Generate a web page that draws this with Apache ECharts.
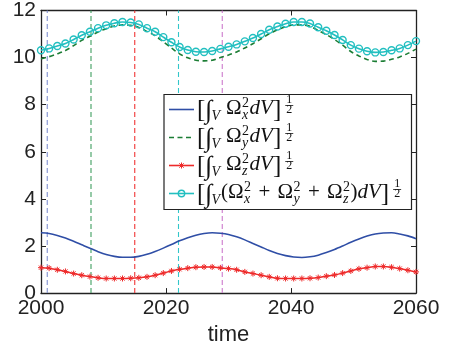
<!DOCTYPE html>
<html><head><meta charset="utf-8">
<script src="https://cdn.jsdelivr.net/npm/echarts@6/dist/echarts.min.js"></script>
<style>html,body{margin:0;padding:0;background:#fff}#c{width:451px;height:351px}</style>
</head><body><div id="c"></div>
<script>
// ---- data ----
const years = [2000,2001.30,2002.61,2003.91,2005.22,2006.52,2007.83,2009.13,2010.43,2011.74,2013.04,2014.35,2015.65,2016.96,2018.26,2019.57,2020.87,2022.17,2023.48,2024.78,2026.09,2027.39,2028.70,2030.00,2031.30,2032.61,2033.91,2035.22,2036.52,2037.83,2039.13,2040.43,2041.74,2043.04,2044.35,2045.65,2046.96,2048.26,2049.57,2050.87,2052.17,2053.48,2054.78,2056.09,2057.39,2058.70,2060.00];
const omegaX = [2.56,2.53,2.45,2.34,2.20,2.05,1.90,1.76,1.64,1.56,1.52,1.52,1.56,1.65,1.77,1.91,2.06,2.22,2.35,2.46,2.53,2.56,2.54,2.49,2.39,2.26,2.11,1.96,1.81,1.68,1.59,1.53,1.51,1.54,1.61,1.72,1.85,2.00,2.16,2.30,2.42,2.51,2.55,2.56,2.51,2.43,2.31];
const omegaY = [9.95,10.04,10.16,10.30,10.51,10.73,10.91,11.09,11.23,11.34,11.39,11.37,11.28,11.11,10.93,10.67,10.41,10.16,9.99,9.89,9.86,9.89,10.00,10.11,10.24,10.41,10.59,10.80,11.01,11.18,11.31,11.39,11.39,11.33,11.15,10.98,10.77,10.53,10.26,10.07,9.92,9.84,9.85,9.93,10.03,10.18,10.36];
const omegaZ = [1.08,1.06,0.99,0.92,0.83,0.76,0.70,0.65,0.62,0.62,0.62,0.63,0.65,0.69,0.76,0.85,0.94,1.01,1.06,1.10,1.11,1.11,1.07,1.04,0.99,0.90,0.83,0.76,0.69,0.63,0.62,0.62,0.62,0.63,0.66,0.72,0.77,0.85,0.94,1.03,1.08,1.13,1.13,1.10,1.04,0.97,0.90];
const omegaTotal = [10.31,10.39,10.49,10.60,10.77,10.95,11.10,11.25,11.37,11.46,11.51,11.49,11.41,11.25,11.10,10.87,10.65,10.45,10.32,10.25,10.24,10.28,10.37,10.46,10.56,10.69,10.83,11.00,11.18,11.32,11.44,11.51,11.51,11.45,11.29,11.14,10.96,10.75,10.53,10.38,10.27,10.22,10.24,10.31,10.39,10.53,10.70];
const markerYears = [2001, 2008, 2015, 2022, 2029];
const markerColors = ['#8090d0', '#3f9f60', '#f03434', '#33c6ca', '#cc78cc'];
const xTicks = [2000, 2020, 2040, 2060];
const yTicks = [0, 2, 4, 6, 8, 10, 12];

const C = { x:'#2f4ea6', y:'#1b7d34', z:'#ee2a2a', t:'#22bfc0' };
const pairs = v => years.map((yr, i) => [yr, v[i]]);

// ---- legend drawn as graphic (LaTeX-like) ----
const cv = document.createElement('canvas').getContext('2d');
const SERIF = '"Liberation Serif","DejaVu Serif",serif';
const fnt = (s, it) => (it ? 'italic ' : '') + s + 'px ' + SERIF;
const meas = (t, f) => { cv.font = f; return cv.measureText(t).width; };
const G = [];
const LX = 164, LY = 94.5, LW = 247.5, LH = 115;
G.push({type:'rect', shape:{x:LX, y:LY, width:LW, height:LH}, style:{fill:'#fff', stroke:'#222', lineWidth:1.2}, z:100});
function T(t, x, yb, s, it) {
  const f = fnt(s, it);
  G.push({type:'text', x:x, y:yb - 0.34 * s, z:101,
    style:{text:t, font:f, fill:'#111', textAlign:'left', textVerticalAlign:'middle', align:'left', verticalAlign:'middle'}});
  return meas(t, f);
}
function layout(yb, parts) {
  let x = 197;
  for (const p of parts) {
    if (p.k === 'sp') { x += p.w; continue; }
    if (p.k === 't') { x += T(p.t, x, yb + (p.dy || 0), p.s, p.it) + (p.after || 0); continue; }
    if (p.k === 'ss') {
      const a = T(p.sup, x + 0.5, yb - 8, 14, false);
      const b = T(p.sub, x + 0.5, yb + 4.5, 14, true);
      x += Math.max(a, b) + 1; continue;
    }
    if (p.k === 'frac') {
      x += 4;
      const w = meas('1', fnt(12));
      T('1', x + 1, yb - 12, 12, false);
      T('2', x + 1, yb - 2, 12, false);
      G.push({type:'line', shape:{x1:x, y1:yb - 10.5, x2:x + w + 2, y2:yb - 10.5}, style:{stroke:'#111', lineWidth:0.8}, z:101});
      x += w + 2;
    }
  }
}
const LB = {k:'t', t:'[', s:25, dy:3}, RB = {k:'t', t:']', s:25, dy:3};
const INT = {k:'t', t:'\u222B', s:26, dy:4, it:true, after:-1};
const SUBV = {k:'t', t:'V', s:14, dy:5, it:true};
const OM = {k:'t', t:'\u03A9', s:21};
const D = {k:'t', t:'d', s:21, it:true}, V = {k:'t', t:'V', s:21, it:true};
const FR = {k:'frac'};
const sp = w => ({k:'sp', w:w});
const ss = s => ({k:'ss', sup:'2', sub:s});
const PLUS = [sp(7), {k:'t', t:'+', s:21}, sp(7)];
const rowBase = [116, 144, 172, 200];
layout(rowBase[0], [LB, INT, SUBV, sp(6), OM, ss('x'), D, V, RB, FR]);
layout(rowBase[1], [LB, INT, SUBV, sp(6), OM, ss('y'), D, V, RB, FR]);
layout(rowBase[2], [LB, INT, SUBV, sp(6), OM, ss('z'), D, V, RB, FR]);
layout(rowBase[3], [LB, INT, SUBV, sp(1), {k:'t', t:'(', s:21}, OM, ss('x'), ...PLUS, OM, ss('y'), ...PLUS, OM, ss('z'), {k:'t', t:')', s:21}, D, V, RB, FR]);
// legend samples
const sx1 = 169, sx2 = 194, sxc = 181.5;
const cy = rowBase.map(b => b - 6.5);
G.push({type:'line', shape:{x1:sx1, y1:cy[0], x2:sx2, y2:cy[0]}, style:{stroke:C.x, lineWidth:1.6}, z:101});
G.push({type:'line', shape:{x1:sx1, y1:cy[1], x2:sx2, y2:cy[1]}, style:{stroke:C.y, lineWidth:1.6, lineDash:[5,3.5]}, z:101});
G.push({type:'line', shape:{x1:sx1, y1:cy[2], x2:sx2, y2:cy[2]}, style:{stroke:C.z, lineWidth:1.6}, z:101});
[[-3,0,3,0],[0,-3,0,3],[-2.2,-2.2,2.2,2.2],[-2.2,2.2,2.2,-2.2]].forEach(d =>
  G.push({type:'line', shape:{x1:sxc+d[0], y1:cy[2]+d[1], x2:sxc+d[2], y2:cy[2]+d[3]}, style:{stroke:C.z, lineWidth:1}, z:102}));
G.push({type:'line', shape:{x1:sx1, y1:cy[3], x2:sx2, y2:cy[3]}, style:{stroke:C.t, lineWidth:1.6}, z:101});
G.push({type:'circle', shape:{cx:sxc, cy:cy[3], r:3.2}, style:{stroke:C.t, fill:'rgba(0,0,0,0)', lineWidth:1.4}, z:102});

const axisCommon = {
  axisLine:{show:true, onZero:false, lineStyle:{color:'#222', width:1.3}},
  axisTick:{show:true, inside:true, length:5, lineStyle:{color:'#222', width:1}},
  splitLine:{show:false}
};
const labelFont = {color:'#222', fontSize:21, fontFamily:'"Liberation Sans", Arial, sans-serif'};

const vSeries = markerYears.map((yr, i) => ({
  type:'line', name:'v' + i, data:[[yr, yTicks[0]], [yr, yTicks[yTicks.length-1]]], showSymbol:false, z:1, silent:true,
  lineStyle:{color:markerColors[i], width:1.1, type:[5,3]}
}));

const chart = echarts.init(document.getElementById('c'), null, {renderer:'canvas'});
chart.setOption({
  animation:false,
  backgroundColor:'#fff',
  grid:{left:41, right:35, top:10, bottom:57},
  xAxis:[
    Object.assign({type:'value', min:xTicks[0], max:xTicks[xTicks.length-1], interval:20, position:'bottom',
      name:'time', nameLocation:'middle', nameGap:27,
      nameTextStyle:{color:'#222', fontSize:22, fontFamily:'"Liberation Sans", Arial, sans-serif'},
      axisLabel:Object.assign({margin:5, formatter: v => String(v)}, labelFont)}, axisCommon),
    Object.assign({type:'value', min:xTicks[0], max:xTicks[xTicks.length-1], interval:20, position:'top', axisLabel:{show:false}}, axisCommon)
  ],
  yAxis:[
    Object.assign({type:'value', min:yTicks[0], max:yTicks[yTicks.length-1], interval:2, position:'left',
      axisLabel:Object.assign({margin:5}, labelFont)}, axisCommon),
    Object.assign({type:'value', min:yTicks[0], max:yTicks[yTicks.length-1], interval:2, position:'right', axisLabel:{show:false}}, axisCommon)
  ],
  series: vSeries.concat([
    {type:'line', name:'x', data:pairs(omegaX), showSymbol:false, smooth:0.3, z:3,
      lineStyle:{color:C.x, width:1.6}},
    {type:'line', name:'y', data:pairs(omegaY), showSymbol:false, smooth:0.3, z:3,
      lineStyle:{color:C.y, width:1.6, type:[5,3.5]}},
    {type:'line', name:'z', data:pairs(omegaZ), smooth:0.3, z:4,
      symbol:'path://M0,5L10,5M5,0L5,10M1.5,1.5L8.5,8.5M8.5,1.5L1.5,8.5', symbolSize:6, showAllSymbol:true,
      lineStyle:{color:C.z, width:1.5},
      itemStyle:{color:C.z, borderColor:C.z, borderWidth:1}},
    {type:'line', name:'t', data:pairs(omegaTotal), smooth:0.3, z:5,
      symbol:'circle', symbolSize:7, showAllSymbol:true,
      lineStyle:{color:C.t, width:1.6},
      itemStyle:{color:'rgba(0,0,0,0)', borderColor:C.t, borderWidth:1.4}}
  ]),
  graphic:{elements:G}
});
</script></body></html>
